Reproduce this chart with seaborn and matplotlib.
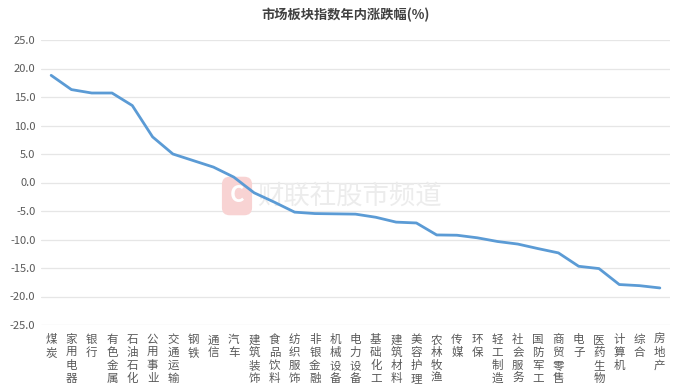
import matplotlib
matplotlib.use("Agg")
import matplotlib.pyplot as plt
import seaborn as sns
import pandas as pd

categories = ["煤炭", "家用电器", "银行", "有色金属", "石油石化", "公用事业", "交通运输", "钢铁", "通信", "汽车",
              "建筑装饰", "食品饮料", "纺织服饰", "非银金融", "机械设备", "电力设备", "基础化工", "建筑材料", "美容护理",
              "农林牧渔", "传媒", "环保", "轻工制造", "社会服务", "国防军工", "商贸零售", "电子", "医药生物", "计算机",
              "综合", "房地产"]
values = [18.8, 16.3, 15.7, 15.7, 13.5, 8.0, 5.0, 3.85, 2.7, 0.95,
          -1.8, -3.45, -5.2, -5.45, -5.5, -5.55, -6.1, -6.95, -7.1,
          -9.2, -9.25, -9.7, -10.35, -10.8, -11.6, -12.35, -14.7, -15.1, -17.9,
          -18.1, -18.5]
yticks = [-25, -20, -15, -10, -5, 0, 5, 10, 15, 20, 25]
title = "市场板块指数年内涨跌幅(%)"

sns.set_theme(style="white")
plt.rcParams['font.family'] = ['Noto Sans CJK SC', 'DejaVu Sans']

df = pd.DataFrame({"idx": range(len(categories)), "val": values})

fig = plt.figure(figsize=(6.92, 3.84), dpi=100)
ax = fig.add_axes([41/692, 1-325/384, (670-41)/692, (325-40)/384])

for t in yticks:
    ax.axhline(t, color="#e6e6e6", lw=0.9, zorder=0)

# watermark (behind the line)
ax.text(237/692, 1-196/384, "C", transform=fig.transFigure, fontsize=16, color="white", fontweight="bold",
        ha="center", va="center", bbox=dict(boxstyle="round,pad=0.35", fc="#f8d3d3", ec="none"), zorder=1)
ax.text(257/692, 1-196/384, "财联社股市频道", transform=fig.transFigure, fontsize=19, color="#ececec",
        ha="left", va="center", zorder=1)

sns.lineplot(data=df, x="idx", y="val", ax=ax, color="#5B9BD5", lw=2.0, zorder=3)

ax.set_xlim(-0.5, len(categories) - 0.5)
ax.set_ylim(-25, 25)
ax.set_yticks(yticks)
ax.set_yticklabels([f"{t:.1f}" for t in yticks], color="#595959", fontsize=8)
ax.set_xticks(range(len(categories)))
ax.set_xticklabels(["\n".join(c) for c in categories], color="#595959", fontsize=8.3,
                   linespacing=0.98, va="top")
ax.tick_params(axis="both", length=0, pad=4)
ax.tick_params(axis="x", pad=6)
ax.set_xlabel("")
ax.set_ylabel("")
for s in ax.spines.values():
    s.set_visible(False)

fig.text(0.5, 1-15/384, title, fontsize=9.5, fontweight="bold", color="#404040", ha="center", va="center")

fig.savefig("out.png", dpi=100, facecolor="white")
